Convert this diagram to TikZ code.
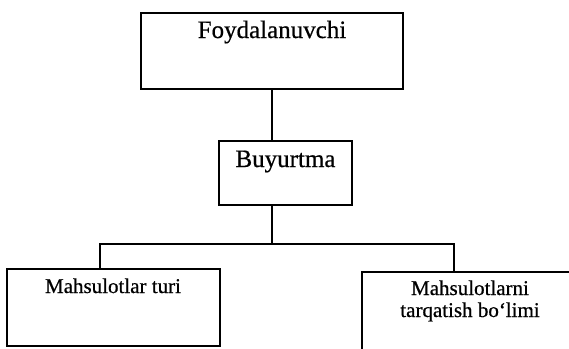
\documentclass[tikz,border=0pt]{standalone}
\usepackage{fontspec}
\setmainfont{Liberation Serif}
\newfontfamily\scanfont{Liberation Serif}[FakeBold=0.6]
\begin{document}
\begin{tikzpicture}[x=1pt,y=-1pt,
  box/.style={draw=black,line width=1.4pt,inner sep=0pt,fill=none},
  conn/.style={draw=black,line width=1.4pt},
  bigtxt/.style={font=\scanfont\fontsize{25}{28}\selectfont,anchor=base,inner sep=0pt},
  smalltxt/.style={font=\scanfont\fontsize{21}{22.5}\selectfont,anchor=base,inner sep=0pt,align=center}]
\useasboundingbox (0,0) rectangle (569,348);
\clip (0,0) rectangle (569,348);
\node[box,minimum width=262pt,minimum height=76pt] (top) at (272,51) {};
\node[box,minimum width=133pt,minimum height=64pt] (buy) at (285.5,173) {};
\node[box,minimum width=213pt,minimum height=77pt] (left) at (113.5,307.5) {};
\node[box,minimum width=220pt,minimum height=88pt] (right) at (472,316) {};
\node[bigtxt] (ttop) at (272,38) {Foydalanuvchi};
\node[bigtxt] (tbuy) at (285.5,167) {Buyurtma};
\node[smalltxt] (tleft) at (113,293) {Mahsulotlar turi};
\node[smalltxt] (tright1) at (470,295) {Mahsulotlarni};
\node[smalltxt] (tright2) at (470,317) {tarqatish bo‘limi};
\coordinate (j) at (272,244);
\coordinate (jl) at (100,244);
\coordinate (jr) at (454,244);
\draw[conn] (top.south) -- (top.south |- buy.north);
\draw[conn] (j |- buy.south) -- (j);
\draw[conn] (jl |- left.north) -- (jl) -- (jr) -- (jr |- right.north);
\end{tikzpicture}
\end{document}
